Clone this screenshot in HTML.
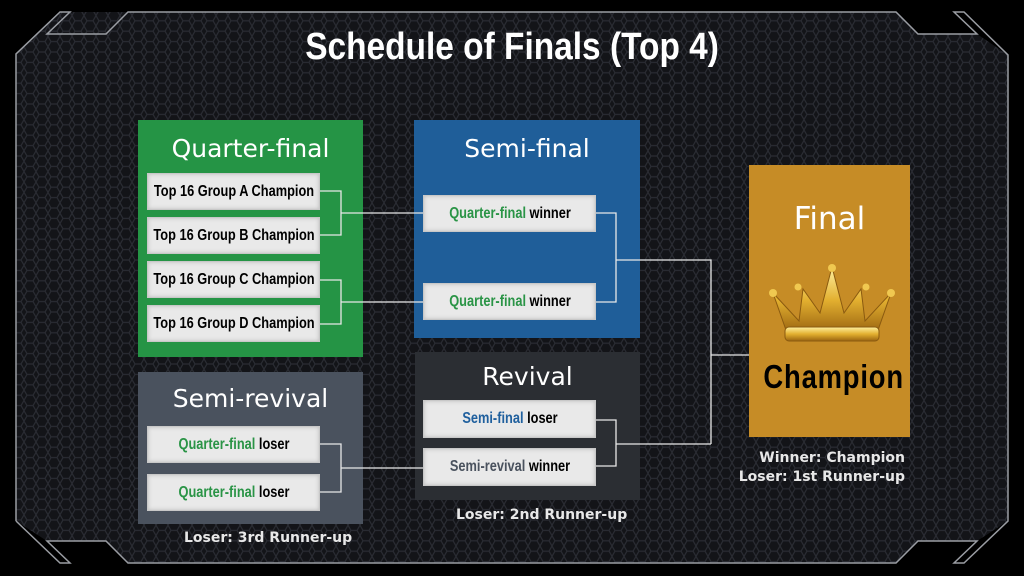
<!DOCTYPE html>
<html><head><meta charset="utf-8"><style>
body{margin:0;width:1024px;height:576px;background:#000;overflow:hidden;position:relative;font-family:"Liberation Sans",sans-serif}
.abs{position:absolute}
.box{position:absolute}
.ttl{position:absolute;left:0;right:0;text-align:center;color:#fff;font-family:"DejaVu Sans","Liberation Sans",sans-serif;font-size:25px}
.item{position:absolute;width:173px;background:#e9e9e9;border:1px solid #c8c8c8;box-shadow:inset 0 0 4px #bbb;font-family:"Liberation Sans",sans-serif;font-weight:bold;font-size:16px;color:#000;box-sizing:border-box;white-space:nowrap}
.item>span.c{position:absolute;left:50%;top:0;transform:translateX(-50%) scaleX(0.8)}
.g{color:#2a9446}.b{color:#20609e}.s{color:#4a525e}
.cap{position:absolute;color:#e8e8e8;font-family:"DejaVu Sans",sans-serif;font-weight:bold;font-size:14px}
</style></head><body>
<svg class="abs" style="left:0;top:0" width="1024" height="576">
<defs><pattern id="hx" width="12" height="10.4" patternUnits="userSpaceOnUse">
<rect width="12" height="10.4" fill="#131418"/>
<path d="M0,5.2 L3,0 L9,0 L12,5.2 L9,10.4 L3,10.4 Z" fill="none" stroke="#2a2c33" stroke-width="1.2"/>
</pattern></defs>
<path d="M16,54 L60,12 L896,12 L918,34 L977,34 L1008,55 L1008,521 L977,541 L918,541 L896,563 L128,563 L106,541 L47,541 L16,521 Z" fill="url(#hx)"/>
<g fill="none" stroke="#9a9da3" stroke-width="1.5">
<path d="M16,521 L16,54 L60,12 L70,12 L47,34 L106,34 L128,12 L896,12 L918,34 L977,34 L954,12 L964,12 L1008,55 L1008,521 L964,563 L954,563 L977,541 L918,541 L896,563 L128,563 L106,541 L47,541 L70,563 L60,563 L16,521"/>
</g>
</svg>
<div class="abs" style="left:0;right:0;top:26px;text-align:center;color:#fff;font-family:'Liberation Sans',sans-serif;font-weight:bold;font-size:38px;white-space:nowrap"><span style="display:inline-block;transform:scaleX(0.88)">Schedule of Finals (Top 4)</span></div>

<div class="box" style="left:138px;top:120px;width:225px;height:237px;background:#259445">
<div class="ttl" style="top:14px">Quarter-final</div></div>
<div class="item" style="left:147px;top:173px;height:37px;line-height:35px"><span class="c">Top 16 Group A Champion</span></div>
<div class="item" style="left:147px;top:217px;height:37px;line-height:35px"><span class="c">Top 16 Group B Champion</span></div>
<div class="item" style="left:147px;top:261px;height:37px;line-height:35px"><span class="c">Top 16 Group C Champion</span></div>
<div class="item" style="left:147px;top:305px;height:37px;line-height:35px"><span class="c">Top 16 Group D Champion</span></div>

<div class="box" style="left:414px;top:120px;width:226px;height:218px;background:#1f5e99">
<div class="ttl" style="top:14px">Semi-final</div></div>
<div class="item" style="left:423px;top:195px;height:37px;line-height:35px"><span class="c"><span class="g">Quarter-final</span> winner</span></div>
<div class="item" style="left:423px;top:283px;height:37px;line-height:35px"><span class="c"><span class="g">Quarter-final</span> winner</span></div>

<div class="box" style="left:138px;top:372px;width:225px;height:152px;background:#4a525e">
<div class="ttl" style="top:12px">Semi-revival</div></div>
<div class="item" style="left:147px;top:426px;height:37px;line-height:35px"><span class="c"><span class="g">Quarter-final</span> loser</span></div>
<div class="item" style="left:147px;top:474px;height:37px;line-height:35px"><span class="c"><span class="g">Quarter-final</span> loser</span></div>
<div class="cap" style="left:184px;top:530px">Loser: 3rd Runner-up</div>

<div class="box" style="left:415px;top:352px;width:225px;height:148px;background:#2b2e33">
<div class="ttl" style="top:10px">Revival</div></div>
<div class="item" style="left:423px;top:400px;height:38px;line-height:36px"><span class="c"><span class="b">Semi-final</span> loser</span></div>
<div class="item" style="left:423px;top:448px;height:38px;line-height:36px"><span class="c"><span class="s">Semi-revival</span> winner</span></div>
<div class="cap" style="left:456px;top:507px">Loser: 2nd Runner-up</div>

<div class="box" style="left:749px;top:165px;width:161px;height:272px;background:#c68c26">
<div class="ttl" style="top:36px;font-size:31px">Final</div>
<svg class="abs" style="left:16px;top:98px" width="130" height="90">
<defs><linearGradient id="gd" x1="0" y1="0" x2="0" y2="1"><stop offset="0" stop-color="#fff1a0"/><stop offset="0.5" stop-color="#e3b030"/><stop offset="1" stop-color="#9a6410"/></linearGradient></defs>
<path d="M8,30 L34,58 L38,26 L55,50 L67,4 L79,50 L96,26 L100,58 L126,30 L112,70 L22,70 Z" fill="url(#gd)" stroke="#8a5a10" stroke-width="1"/>
<rect x="20" y="64" width="94" height="14" rx="4" fill="url(#gd)" stroke="#8a5a10"/>
<circle cx="67" cy="5" r="4" fill="#f0c850"/><circle cx="8" cy="30" r="4" fill="#f0c850"/><circle cx="126" cy="30" r="4" fill="#f0c850"/><circle cx="33" cy="24" r="3.5" fill="#f0c850"/><circle cx="101" cy="24" r="3.5" fill="#f0c850"/>
</svg>
<div class="abs" style="left:0;right:0;top:193px;text-align:center;font-family:'Liberation Sans',sans-serif;font-weight:bold;font-size:33px;color:#000;white-space:nowrap"><span style="display:inline-block;transform:scaleX(0.83);letter-spacing:1px">Champion</span></div>
</div>
<div class="cap" style="right:119px;top:449px;text-align:right;line-height:19px">Winner: Champion<br>Loser: 1st Runner-up</div>

<svg class="abs" style="left:0;top:0" width="1024" height="576">
<g fill="none" stroke="#e8e8e8" stroke-width="1.3">
<path d="M320,191 H341 V235 H320 M341,213 H423"/>
<path d="M320,280 H341 V324 H320 M341,302 H423"/>
<path d="M596,213 H616 V302 H596 M616,260 H711 V444 M711,355 H749"/>
<path d="M320,444 H341 V492 H320 M341,468 H423"/>
<path d="M596,420 H616 V466 H596 M616,444 H711"/>
</g>
</svg>
</body></html>
